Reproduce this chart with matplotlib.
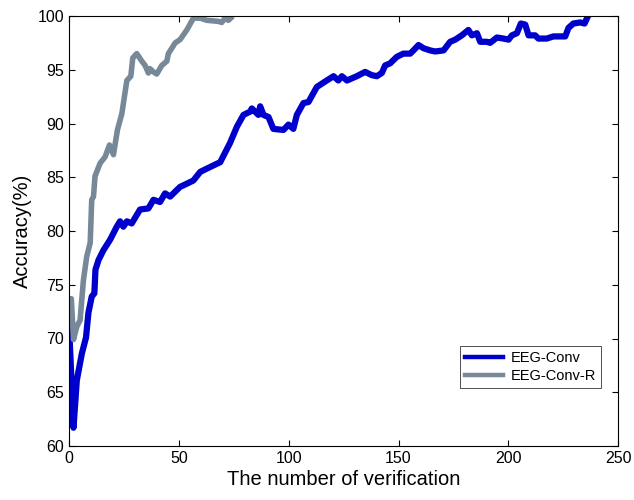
import matplotlib
matplotlib.use("Agg")
import matplotlib.pyplot as plt

plt.rcParams['font.family'] = ['Liberation Sans', 'DejaVu Sans']

# EEG-Conv (blue)
conv_x = [0, 2, 3.5, 5.8, 7.7, 8.8, 10.3, 11.5, 12, 13.4, 15.6, 18.7, 21.7, 23.2, 24.7,
          26.3, 28.5, 32.3, 36.1, 38.4, 41.4, 43.7, 46, 50.5, 53.6, 56.6, 59.7, 65.7,
          68.8, 73.3, 76.4, 79.4, 82.4, 83.2, 86.2, 87.0, 88.5, 90.8, 93.0, 97.6, 99.9,
          102.1, 103.7, 106.7, 109.0, 112.8, 117.3, 120.4, 122.6, 124.2, 126.5, 131.0,
          134.8, 137.8, 140.1, 142.4, 143.9, 146.2, 149.2, 152.2, 155.3, 156.8, 159.1,
          161.4, 164.4, 166.7, 170.5, 173.5, 175.8, 178.8, 181.8, 183.4, 185.7, 187.2,
          190.2, 191.7, 194.8, 197.8, 200.1, 201.6, 203.9, 205.7, 207.7, 209.2, 212.2,
          213.7, 217.5, 220.5, 225.9, 227.4, 229.6, 232.7, 234.7, 236.5]
conv_y = [71.1, 61.7, 66.1, 68.6, 70.1, 72.4, 73.9, 74.2, 76.4, 77.3, 78.2, 79.2, 80.4,
          80.9, 80.4, 80.9, 80.7, 82.0, 82.1, 82.9, 82.7, 83.5, 83.2, 84.1, 84.4, 84.7,
          85.5, 86.1, 86.4, 88.2, 89.7, 90.8, 91.1, 91.4, 90.8, 91.6, 90.8, 90.6, 89.5,
          89.4, 89.9, 89.5, 90.8, 91.9, 92.0, 93.4, 94.0, 94.4, 94.0, 94.4, 94.0, 94.4,
          94.8, 94.5, 94.4, 94.7, 95.4, 95.6, 96.2, 96.5, 96.5, 96.8, 97.3, 97.0, 96.8,
          96.7, 96.8, 97.6, 97.8, 98.2, 98.7, 98.2, 98.4, 97.6, 97.6, 97.5, 98.0, 97.9,
          97.8, 98.2, 98.4, 99.3, 99.2, 98.2, 98.2, 97.9, 97.9, 98.1, 98.1, 98.9, 99.3,
          99.4, 99.3, 100.1]

# EEG-Conv-R (gray)
convr_x = [0, 1, 2, 3.5, 5.0, 6.5, 8.0, 9.6, 10.3, 11.1, 11.8, 14.1, 16.4, 18.4, 20.2,
           22.0, 24.0, 26.3, 28.1, 29.0, 30.8, 33.1, 34.6, 36.1, 36.8, 38.4, 39.9, 42.2,
           44.5, 45.2, 48.3, 50.5, 53.6, 56.6, 59.7, 62.7, 68.0, 69.5, 71.0, 72.5, 73.6]
convr_y = [73.7, 73.7, 69.9, 71.1, 71.7, 75.4, 77.6, 78.9, 82.9, 83.2, 85.1, 86.3, 86.9,
           88.0, 87.1, 89.4, 90.9, 94.0, 94.4, 96.1, 96.5, 95.8, 95.4, 94.7, 95.1, 94.8,
           94.6, 95.4, 95.8, 96.5, 97.5, 97.8, 98.7, 99.8, 99.8, 99.6, 99.5, 99.4, 99.8,
           99.6, 99.8]

fig = plt.figure(figsize=(6.34, 5.0), dpi=100)
ax = fig.add_axes([0.109, 0.108, 0.866, 0.860])

ax.plot(conv_x, conv_y, color='#0000cd', lw=4.5, label='EEG-Conv')
ax.plot(convr_x, convr_y, color='#778899', lw=4, label='EEG-Conv-R')

ax.set_xlim(0, 250)
ax.set_ylim(60, 100)
ax.set_xticks(range(0, 251, 50))
ax.set_yticks(range(60, 101, 5))
ax.tick_params(direction='in', top=True, right=True, labelsize=11.5, length=4.5)
for s in ax.spines.values():
    s.set_linewidth(0.8)

ax.set_xlabel('The number of verification', fontsize=14.5, labelpad=3)
ax.set_ylabel('Accuracy(%)', fontsize=14.5, labelpad=4)

leg = ax.legend(loc='lower right', bbox_to_anchor=(0.982, 0.118), fontsize=10.5,
                fancybox=False, framealpha=1, edgecolor='#333333', handlelength=2.6,
                borderpad=0.35, labelspacing=0.25, handletextpad=0.5)
leg.get_frame().set_linewidth(0.6)
for ln in leg.get_lines():
    ln.set_linewidth(3.2)

fig.savefig('out.png', dpi=100)
